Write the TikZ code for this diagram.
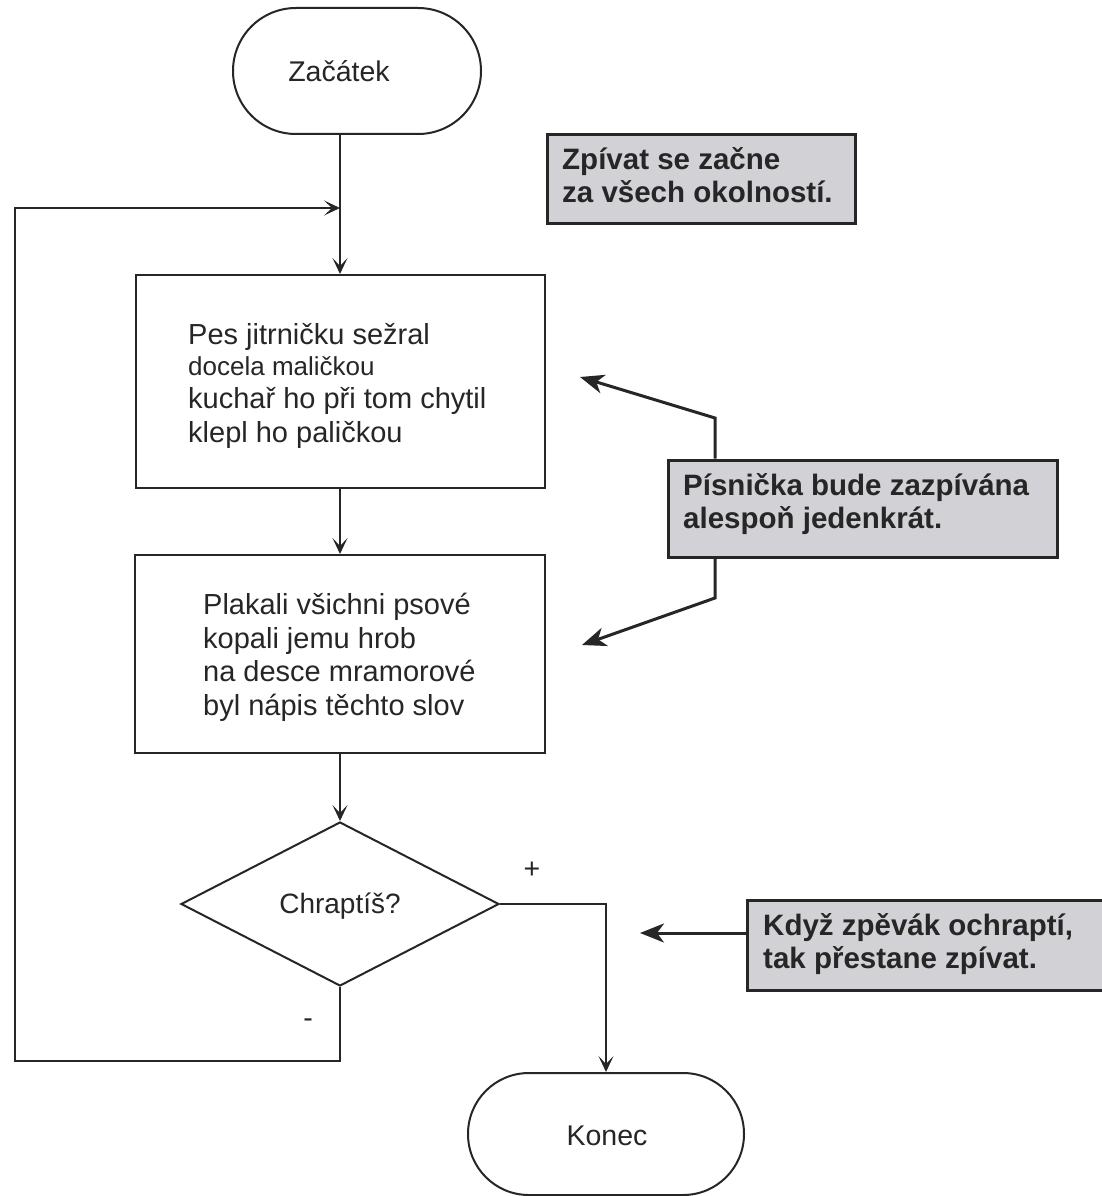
\documentclass[tikz,border=0pt]{standalone}
\usepackage{fontspec}
\setmainfont{Liberation Sans}
\usetikzlibrary{shapes.geometric,arrows.meta}
\definecolor{ink}{HTML}{262626}
\definecolor{notefill}{HTML}{D2D2D6}
\begin{document}
\begin{tikzpicture}[x=1pt,y=-1pt,
  every node/.style={text=ink},
  terminal/.style n args={3}{draw=ink, line width=2pt, rounded corners=#3,
    minimum width=#1, minimum height=#2, inner sep=0pt},
  stepbox/.style 2 args={draw=ink, line width=2pt, minimum width=#1,
    minimum height=#2, inner sep=0pt},
  decision/.style={draw=ink, line width=2pt, shape=diamond, aspect=1.94,
    minimum width=318pt, minimum height=164pt, inner sep=0pt},
  plain/.style={anchor=base, inner sep=0pt, font=\fontsize{28.5}{33}\selectfont},
  % multi-line texts are anchored at the baseline of their last line
  boxtext/.style={anchor=base west, align=left, inner sep=0pt,
    font=\fontsize{29}{33.5}\selectfont},
  note/.style 2 args={draw=ink, fill=notefill, line width=3pt,
    minimum width=#1, minimum height=#2, inner sep=0pt},
  notetext/.style={anchor=base west, align=left, inner sep=0pt,
    font=\bfseries\fontsize{29.5}{33}\selectfont},
  flow/.style={draw=ink, line width=2pt,
    -{Stealth[length=16pt,width=15pt,inset=8pt]}},
  pointer/.style={draw=ink, line width=3pt,
    -{Stealth[length=24pt,width=19pt,inset=7pt]}},
]
% page
\useasboundingbox (0,0) rectangle (1101,1196);
\fill[white] (0,0) rectangle (1101,1196);

% flowchart nodes
\node[terminal={248pt}{126pt}{62.9pt}] (start) at (357,71) {};
\node[plain] (startText) at (339,82) {Začátek};

\node[stepbox={409pt}{213pt}] (b1) at (340,381.5) {};
\node[boxtext] (b1Text) at (188,442)
  {Pes jitrničku sežral\\[-3pt]
   {\fontsize{26}{33.5}\selectfont docela maličkou}\\
   kuchař ho při tom chytil\\
   klepl ho paličkou};

\node[stepbox={410pt}{198pt}] (b2) at (340,654) {};
\node[boxtext] (b2Text) at (203,715)
  {Plakali všichni psové\\
   kopali jemu hrob\\
   na desce mramorové\\
   byl nápis těchto slov};

\node[decision] (dec) at (340,904) {};
\node[plain,font=\fontsize{28}{33}\selectfont] (decText) at (340,913) {Chraptíš?};

\node[terminal={276pt}{122pt}{60.9pt}] (end) at (606,1134) {};
\node[plain] (endText) at (607,1145) {Konec};

\node[plain] (plus) at (532,878) {+};
\node[plain] (minus) at (308,1027) {-};

% loop-back corners
\coordinate (lb) at (15,1061);
\coordinate (lt) at (15,208);

% connectors
\draw[flow] (start.south -| b1.north) -- (b1.north);
\draw[flow] (b1.south) -- (b2.north);
\draw[flow] (b2.south) -- (dec.north);
\draw[flow] (dec.east) -| (end.north);
\draw[flow] (dec.south) |- (lb) -- (lt) -- (lt -| b1.north);

% comment boxes
\node[note={308pt}{88pt}] (n1) at (701,179) {};
\node[notetext] (n1Text) at (562,202) {Zpívat se začne\\za všech okolností.};

\node[note={389pt}{97pt}] (n2) at (862.5,508.5) {};
\node[notetext] (n2Text) at (683,528) {Písnička bude zazpívána\\alespoň jedenkrát.};

\node[note={380pt}{90pt}] (n3) at (937,945) {};
\node[notetext] (n3Text) at (763,968) {Když zpěvák ochraptí,\\tak přestane zpívat.};

% comment pointers
\coordinate (n2up) at (715,418);
\coordinate (n2upTip) at (580,377);
\coordinate (n2dn) at (715,598);
\coordinate (n2dnTip) at (582,645);
\coordinate (n3Tip) at (640,933);
\draw[pointer] (n2.north -| n2up) -- (n2up) -- (n2upTip);
\draw[pointer] (n2.south -| n2dn) -- (n2dn) -- (n2dnTip);
\draw[pointer] (n3.west |- n3Tip) -- (n3Tip);
\end{tikzpicture}
\end{document}
